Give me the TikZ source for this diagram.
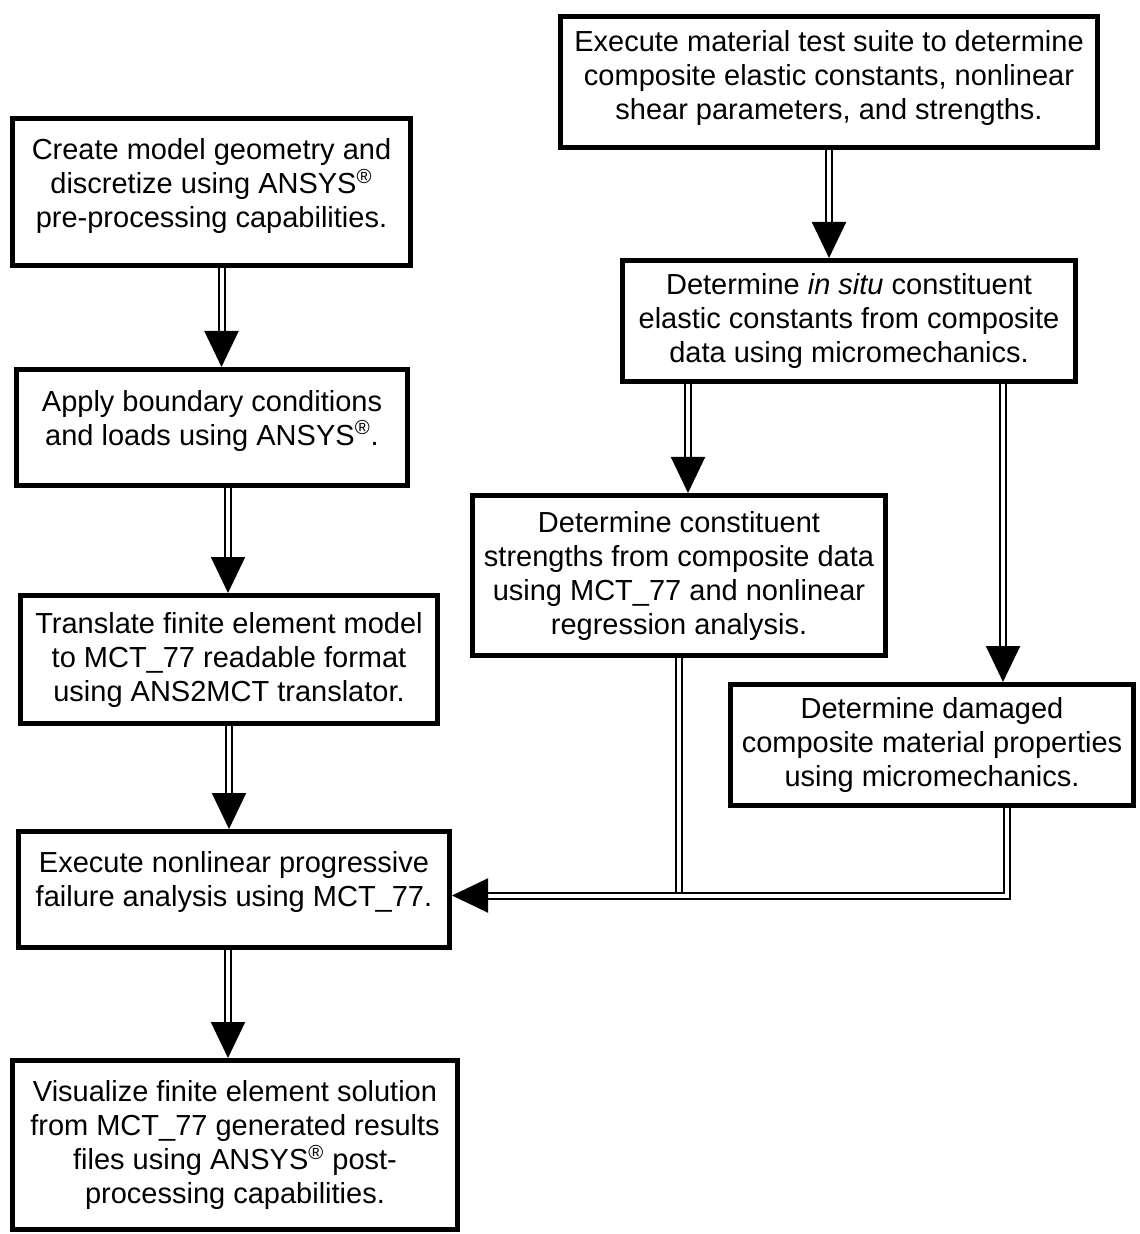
\documentclass[tikz,border=0pt]{standalone}
\usepackage{fontspec}
\setmainfont{Liberation Sans}
\usetikzlibrary{arrows.meta}

\begin{document}
\begin{tikzpicture}[
          x=0.5pt, y=-0.5pt,
          stepbox/.style={
            draw=black,
            line width=2.5pt,
            inner sep=0pt,
            align=center,
            font=\fontsize{14.5}{17}\selectfont,
          },
          flow/.style={
            double,
            double distance=2pt,
            line width=1pt,
            -{Triangle[length=18pt,width=17pt]},
          },
          pipe/.style={
            double,
            double distance=2pt,
            line width=1pt,
          },
        ]
          \useasboundingbox (0,0) rectangle (1139,1234);
          % left column
          \node[stepbox, minimum width=199pt, minimum height=73.5pt] (geom) at (211.5,192)
            {Create model geometry and\\discretize using ANSYS\textsuperscript{®}\\pre-processing capabilities.\\[-8pt]\mbox{}};
          \node[stepbox, minimum width=195.5pt, minimum height=58pt] (apply) at (212,427.5)
            {Apply boundary conditions\\and loads using ANSYS\textsuperscript{®}.\\[-7pt]\mbox{}};
          \node[stepbox, minimum width=208.5pt, minimum height=64pt] (transl) at (229,659.5)
            {Translate finite element model\\to MCT\_77 readable format\\using ANS2MCT translator.};
          \node[stepbox, minimum width=215.5pt, minimum height=58pt] (exec) at (234,889.5)
            {Execute nonlinear progressive\\failure analysis using MCT\_77.\\[-6pt]\mbox{}};
          \node[stepbox, minimum width=222.5pt, minimum height=84.5pt] (visual) at (235,1145)
            {Visualize finite element solution\\from MCT\_77 generated results\\files using ANSYS\textsuperscript{®} post-\\processing capabilities.};
          % right column
          \node[stepbox, minimum width=268.5pt, minimum height=65.5pt] (suite) at (829,82)
            {Execute material test suite to determine\\composite elastic constants, nonlinear\\shear parameters, and strengths.\\[-10pt]\mbox{}};
          \node[stepbox, minimum width=226.5pt, minimum height=60.5pt] (insitu) at (849,321)
            {Determine \textit{in situ} constituent\\elastic constants from composite\\data using micromechanics.};
          \node[stepbox, minimum width=206.5pt, minimum height=80pt] (strength) at (679,575.5)
            {Determine constituent\\strengths from composite data\\using MCT\_77 and nonlinear\\regression analysis.};
          \node[stepbox, minimum width=201.5pt, minimum height=60.5pt] (damage) at (932,745)
            {Determine damaged\\composite material properties\\using micromechanics.};
          \coordinate (join) at ([yshift=-3pt]exec.east -| strength.south);
          \draw[flow] ([xshift=5pt]geom.south) -- ([xshift=5pt]geom.south |- apply.north);
          \draw[flow] ([xshift=8pt]apply.south) -- ([xshift=8pt]apply.south |- transl.north);
          \draw[flow] (transl.south) -- (transl.south |- exec.north);
          \draw[flow] ([xshift=-3pt]exec.south) -- ([xshift=-3pt]exec.south |- visual.north);
          \draw[flow] (suite.south) -- (suite.south |- insitu.north);
          \draw[flow] ([xshift=4.5pt]strength.north |- insitu.south) -- ([xshift=4.5pt]strength.north);
          \draw[flow] ([xshift=35.5pt]damage.north |- insitu.south) -- ([xshift=35.5pt]damage.north);
          \draw[pipe] (strength.south) -- (join);
          \draw[flow] ([xshift=37.5pt]damage.south) |- ([yshift=-3pt]exec.east);
        \end{tikzpicture}
\end{document}
